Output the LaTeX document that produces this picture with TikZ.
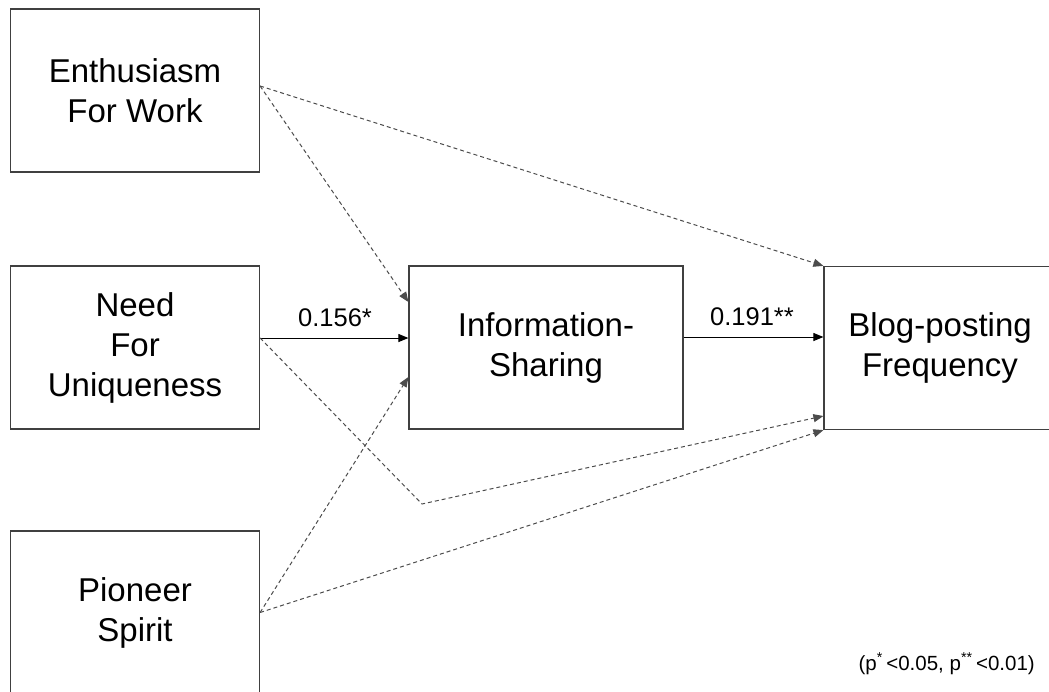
\documentclass[tikz,border=0pt]{standalone}
\usepackage{fontspec}
\setmainfont{Liberation Sans}
\usetikzlibrary{arrows.meta}

\begin{document}
\begin{tikzpicture}[
    x=1pt, y=-1pt,
    box/.style={draw=black!75, line width=1.2pt, rectangle, minimum width=249pt, minimum height=163pt, align=center, inner sep=0pt, font=\fontsize{33}{40}\selectfont},
    coef/.style={font=\fontsize{25.5}{30}\selectfont, inner sep=0pt, anchor=base},
    arrow/.style={-{Triangle[length=10pt,width=8pt]}, line width=1pt},
    dasharrow/.style={arrow, draw=black!70, dash pattern=on 4pt off 3pt},
]
\useasboundingbox (0,0) rectangle (1049,691);

% Antecedents
\node[box] (enthusiasm) at (135, 90.5) {Enthusiasm\\For Work};
\node[box] (need) at (135, 347.5) {Need\\For\\Uniqueness};
\node[box] (pioneer) at (135, 612.5) {Pioneer\\Spirit};

% Mediator
\node[box, minimum width=274pt] (info) at (546, 347.5) {Information-\\Sharing};

% Outcome
\node[box, minimum width=232pt] (blog) at (940, 348) {Blog-posting\\Frequency};

% Significant paths
\draw[arrow] ([yshift=9.5pt]need.east) -- ([yshift=9.5pt]info.west);
\draw[arrow] ([yshift=10.5pt]info.east) -- ([yshift=11pt]blog.west);
\node[coef] (coefA) at (335, 326) {0.156*};
\node[coef] (coefB) at (752, 325) {0.191**};

% Non-significant paths
\coordinate (bend) at (422, 504);
\draw[dasharrow] ([yshift=4.5pt]enthusiasm.east) -- ([yshift=45.5pt]info.west);
\draw[dasharrow] ([yshift=4.5pt]enthusiasm.east) -- (blog.north west);
\draw[dasharrow] ([yshift=9.5pt]need.east) -- (bend) -- ([yshift=-68pt]blog.west);
\draw[dasharrow] (pioneer.east) -- ([yshift=-29.5pt]info.west);
\draw[dasharrow] (pioneer.east) -- (blog.south west);

% Significance levels
\node[font=\fontsize{20.5}{26}\selectfont, anchor=base east, inner sep=0pt] (note) at (1035, 670)
    {(p\textsuperscript{*}\,<0.05, p\textsuperscript{**}\,<0.01)};

\end{tikzpicture}
\end{document}
